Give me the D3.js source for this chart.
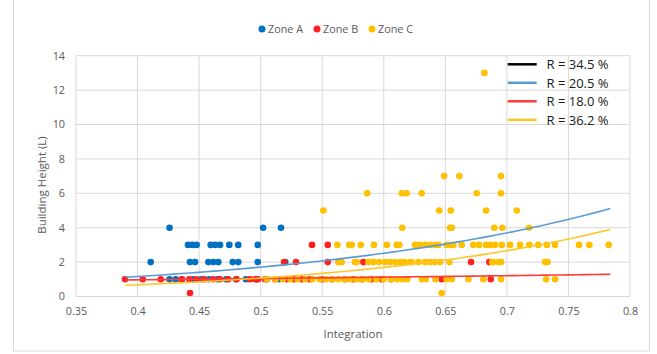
<!DOCTYPE html>
<html><head><meta charset="utf-8">
<script src="https://cdn.jsdelivr.net/npm/d3@7"></script>
<style>body{margin:0;background:#fff}svg{display:block}text{font-family:"Open Sans","Noto Sans",sans-serif}</style>
</head><body><svg id="c" width="657" height="354"></svg>
<script>
// ---- data ----
const seriesNames = ["Zone A", "Zone B", "Zone C"];
const zoneA = [
  [0.426,4],[0.502,4],[0.5165,4],
  [0.441,3],[0.4445,3],[0.448,3],[0.4594,3],[0.463,3],[0.467,3],[0.4745,3],[0.4818,3],[0.4976,3],
  [0.4107,2],[0.4426,2],[0.4467,2],[0.4575,2],[0.4615,2],[0.4656,2],[0.4773,2],[0.4818,2],[0.4976,2],[0.520,2],
  [0.426,1],[0.431,1],[0.436,1],[0.445,1],[0.452,1],[0.458,1],[0.465,1],[0.472,1],[0.48,1],[0.488,1],[0.497,1],[0.505,1],[0.515,1]
];
const zoneB = [
  [0.5417,3],[0.5545,3],
  [0.519,2],[0.5287,2],[0.5545,2],[0.5834,2],[0.6709,2],[0.6857,2],
  [0.4426,0.2],
  [0.3898,1],[0.4042,1],[0.4188,1],[0.4359,1],[0.442,1],[0.448,1],[0.454,1],[0.4615,1],[0.467,1],[0.4737,1],
  [0.4805,1],[0.4913,1],[0.4954,1],[0.4978,1],[0.5035,1],[0.5117,1],[0.5214,1],[0.527,1],[0.5336,1],[0.54,1],
  [0.5498,1],[0.558,1],[0.5685,1],[0.575,1],[0.5823,1],[0.59,1],[0.5986,1],[0.606,1],[0.647,1],[0.6869,1]
];
const zoneC = [
  [0.6817,13],
  [0.649,7],[0.6614,7],[0.6952,7],
  [0.5865,6],[0.6146,6],[0.6186,6],[0.6308,6],[0.6755,6],[0.6952,6],
  [0.5509,5],[0.6451,5],[0.6544,5],[0.6831,5],[0.708,5],
  [0.615,4],[0.6538,4],[0.6552,4],[0.6898,4],[0.6963,4],[0.718,4],
  [0.5623,3],[0.572,3],[0.574,3],[0.5813,3],[0.592,3],[0.6024,3],[0.6105,3],[0.6126,3],[0.6254,3],[0.6289,3],
  [0.6335,3],[0.6376,3],[0.6416,3],[0.6443,3],[0.6511,3],[0.6538,3],[0.6565,3],[0.6633,3],[0.6727,3],[0.6774,3],
  [0.6831,3],[0.6863,3],[0.6904,3],[0.6958,3],[0.7026,3],[0.7107,3],[0.7182,3],[0.7255,3],[0.7324,3],[0.7391,3],
  [0.7586,3],[0.767,3],[0.7827,3],
  [0.5631,2],[0.5658,2],[0.5766,2],[0.578,2],[0.5875,2],[0.5915,2],[0.5962,2],[0.601,2],[0.6051,2],[0.6092,2],
  [0.6132,2],[0.6167,2],[0.6214,2],[0.6227,2],[0.6282,2],[0.6336,2],[0.6376,2],[0.6416,2],[0.6457,2],[0.6533,2],
  [0.689,2],[0.693,2],[0.688,2],[0.6953,2],[0.731,2],[0.733,2],
  [0.505,1],[0.512,1],[0.518,1],[0.524,1],[0.53,1],[0.536,1],[0.542,1],[0.548,1],[0.553,1],[0.558,1],
  [0.563,1],[0.568,1],[0.573,1],[0.578,1],[0.583,1],[0.588,1],[0.594,1],[0.6,1],[0.606,1],[0.611,1],
  [0.615,1],[0.619,1],[0.631,1],[0.634,1],[0.642,1],[0.6511,1],[0.6552,1],[0.6687,1],[0.6809,1],[0.6953,1],
  [0.7318,1],[0.7391,1],
  [0.647,0.2]
];
// exponential trendlines y = a * exp(b * x)
const trendLabels = ["R = 34.5 %", "R = 20.5 %", "R = 18.0 %", "R = 36.2 %"];
const trendA = [null, 0.248, 0.7165, 0.1104];
const trendB = [null, 3.86, 0.75, 4.547];
const trendRange = [0.39, 0.784];
const xTicks = [0.35,0.4,0.45,0.5,0.55,0.6,0.65,0.7,0.75,0.8];
const yTicks = [0,2,4,6,8,10,12,14];

// ---- drawing ----
const colors = ["#0070C0", "#FF2020", "#FFC000"];
const trendColors = ["#000000", "#5B9BD5", "#FF3B3B", "#FFC629"];
const svg = d3.select("#c");
const x = d3.scaleLinear().domain([0.35, 0.8]).range([76, 630]);
const y = d3.scaleLinear().domain([0, 14]).range([296.5, 55.7]);

svg.append("rect").attr("x", 13.5).attr("y", -1).attr("width", 636).attr("height", 352)
  .attr("fill", "#fff").attr("stroke", "#D9D9D9");

// gridlines
svg.append("g").selectAll("line").data(yTicks).join("line")
  .attr("x1", x(0.35)).attr("x2", x(0.8)).attr("y1", d => y(d)).attr("y2", d => y(d))
  .attr("stroke", "#D9D9D9").attr("stroke-width", 1);
svg.append("g").selectAll("line").data(xTicks).join("line")
  .attr("y1", y(0)).attr("y2", y(14)).attr("x1", d => x(d)).attr("x2", d => x(d))
  .attr("stroke", "#D9D9D9").attr("stroke-width", 1);

// axes
const xAxis = svg.append("g").attr("transform", `translate(0,${y(0)})`)
  .call(d3.axisBottom(x).tickValues(xTicks).tickSize(0).tickPadding(11).tickFormat(d3.format("")));
const yAxis = svg.append("g").attr("transform", `translate(${x(0.35)},0)`)
  .call(d3.axisLeft(y).tickValues(yTicks).tickSize(0).tickPadding(11).tickFormat(d3.format("")));
[xAxis, yAxis].forEach(g => {
  g.select(".domain").remove();
  g.selectAll("text").attr("fill", "#595959").style("font-size", "10.8px").style("font-family", '"Open Sans",sans-serif');
});

svg.append("text").attr("x", 353).attr("y", 338).attr("text-anchor", "middle")
  .attr("fill", "#595959").style("font-size", "11.5px").text("Integration");
svg.append("text").attr("transform", "translate(46,185) rotate(-90)").attr("text-anchor", "middle")
  .attr("fill", "#595959").style("font-size", "11.5px").text("Building Height (L)");

// points
[zoneA, zoneB, zoneC].forEach((data, i) => {
  svg.append("g").selectAll("circle").data(data).join("circle")
    .attr("cx", d => x(d[0])).attr("cy", d => y(d[1])).attr("r", 3.3)
    .attr("fill", colors[i]);
});

// trendlines
const line = d3.line().x(d => x(d[0])).y(d => y(d[1]));
const xs = d3.range(0, 61).map(i => trendRange[0] + (trendRange[1] - trendRange[0]) * i / 60);
[1, 2, 3].forEach(k => {
  svg.append("path").datum(xs.map(v => [v, trendA[k] * Math.exp(trendB[k] * v)]))
    .attr("d", line).attr("fill", "none").attr("stroke", trendColors[k]).attr("stroke-width", 1.6);
});

// top legend
const lg = svg.append("g");
seriesNames.forEach((n, i) => {
  const lx = [262, 317, 372][i];
  lg.append("circle").attr("cx", lx).attr("cy", 29).attr("r", 3.5).attr("fill", colors[i]);
  lg.append("text").attr("x", lx + 6).attr("y", 33).attr("fill", "#595959").style("font-size", "10.8px").text(n);
});

// trend legend
const tl = svg.append("g");
trendLabels.forEach((t, i) => {
  const ly = 64.3 + i * 18.5;
  tl.append("line").attr("x1", 507.7).attr("x2", 536.7).attr("y1", ly).attr("y2", ly)
    .attr("stroke", trendColors[i]).attr("stroke-width", 2.5);
  tl.append("text").attr("x", 546.5).attr("y", ly + 4.7).attr("fill", "#1a1a1a").style("font-size", "13px").text(t);
});
</script></body></html>
